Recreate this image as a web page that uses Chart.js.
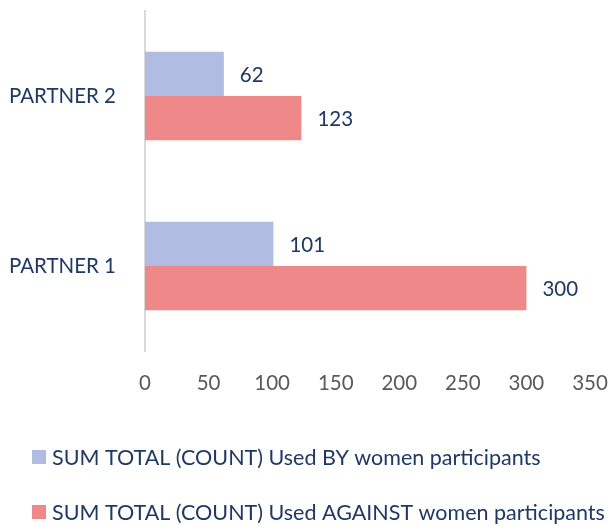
<!DOCTYPE html>
<html><head><meta charset="utf-8">
<script src="https://cdn.jsdelivr.net/npm/chart.js@4/dist/chart.umd.min.js"></script>
<style>html,body{margin:0;padding:0;background:#fff}#wrap{width:611px;height:526px;position:relative}</style>
</head><body><div id="wrap"><canvas id="c" width="611" height="526"></canvas></div>
<script>
const categories = ['PARTNER 2', 'PARTNER 1'];
const seriesNames = ['SUM TOTAL (COUNT) Used BY women participants', 'SUM TOTAL (COUNT) Used AGAINST women participants'];
const usedBy = [62, 101];
const usedAgainst = [123, 300];
const xTicks = [0, 50, 100, 150, 200, 250, 300, 350];

const FONT = 'Lato';
const NAVY = '#1f3864';

const valueLabels = {
  id: 'valueLabels',
  afterDatasetsDraw(chart) {
    const ctx = chart.ctx;
    ctx.save();
    ctx.font = '20.5px ' + FONT;
    ctx.fillStyle = NAVY;
    ctx.textAlign = 'left';
    ctx.textBaseline = 'middle';
    chart.data.datasets.forEach((ds, i) => {
      chart.getDatasetMeta(i).data.forEach((bar, j) => {
        ctx.fillText(String(ds.data[j]), bar.x + 16, bar.y + 1);
      });
    });
    ctx.restore();
  }
};

const bottomLegend = {
  id: 'bottomLegend',
  afterDraw(chart) {
    const ctx = chart.ctx;
    ctx.save();
    ctx.font = '21.5px ' + FONT;
    ctx.textBaseline = 'middle';
    ctx.textAlign = 'left';
    const rows = [457, 512];
    chart.data.datasets.forEach((ds, i) => {
      const y = rows[i];
      ctx.fillStyle = ds.backgroundColor;
      ctx.fillRect(32, y - 7, 14, 14);
      ctx.fillStyle = NAVY;
      ctx.fillText(ds.label, 52, y + 1);
    });
    ctx.restore();
  }
};

function zeroPad(scale) {
  scale.paddingTop = 0; scale.paddingBottom = 0;
  scale.paddingLeft = 0; scale.paddingRight = 0;
}

new Chart(document.getElementById('c'), {
  type: 'bar',
  data: {
    labels: categories,
    datasets: [
      { label: seriesNames[0], data: usedBy, backgroundColor: '#b0bce2' },
      { label: seriesNames[1], data: usedAgainst, backgroundColor: '#ef8888' }
    ]
  },
  options: {
    indexAxis: 'y',
    responsive: false,
    animation: false,
    devicePixelRatio: 1,
    layout: { padding: { top: 11, right: 21, left: 0, bottom: 0 } },
    categoryPercentage: 0.52,
    barPercentage: 1.0,
    plugins: { legend: { display: false }, tooltip: { enabled: false } },
    scales: {
      x: {
        min: 0, max: 350,
        afterBuildTicks(scale) { scale.ticks = xTicks.map(v => ({ value: v })); },
        grid: { display: false, drawTicks: false },
        border: { display: false },
        ticks: { color: '#595959', font: { family: FONT, size: 20.5 }, padding: 20, maxRotation: 0 },
        afterFit(scale) { scale.height = 175; zeroPad(scale); }
      },
      y: {
        grid: { display: false, drawTicks: false },
        border: { display: true, color: '#d9d9d9', width: 2 },
        ticks: { color: NAVY, font: { family: FONT, size: 20.5 }, padding: 29 },
        afterFit(scale) { scale.width = 145; zeroPad(scale); }
      }
    }
  },
  plugins: [valueLabels, bottomLegend]
});
</script></body></html>
